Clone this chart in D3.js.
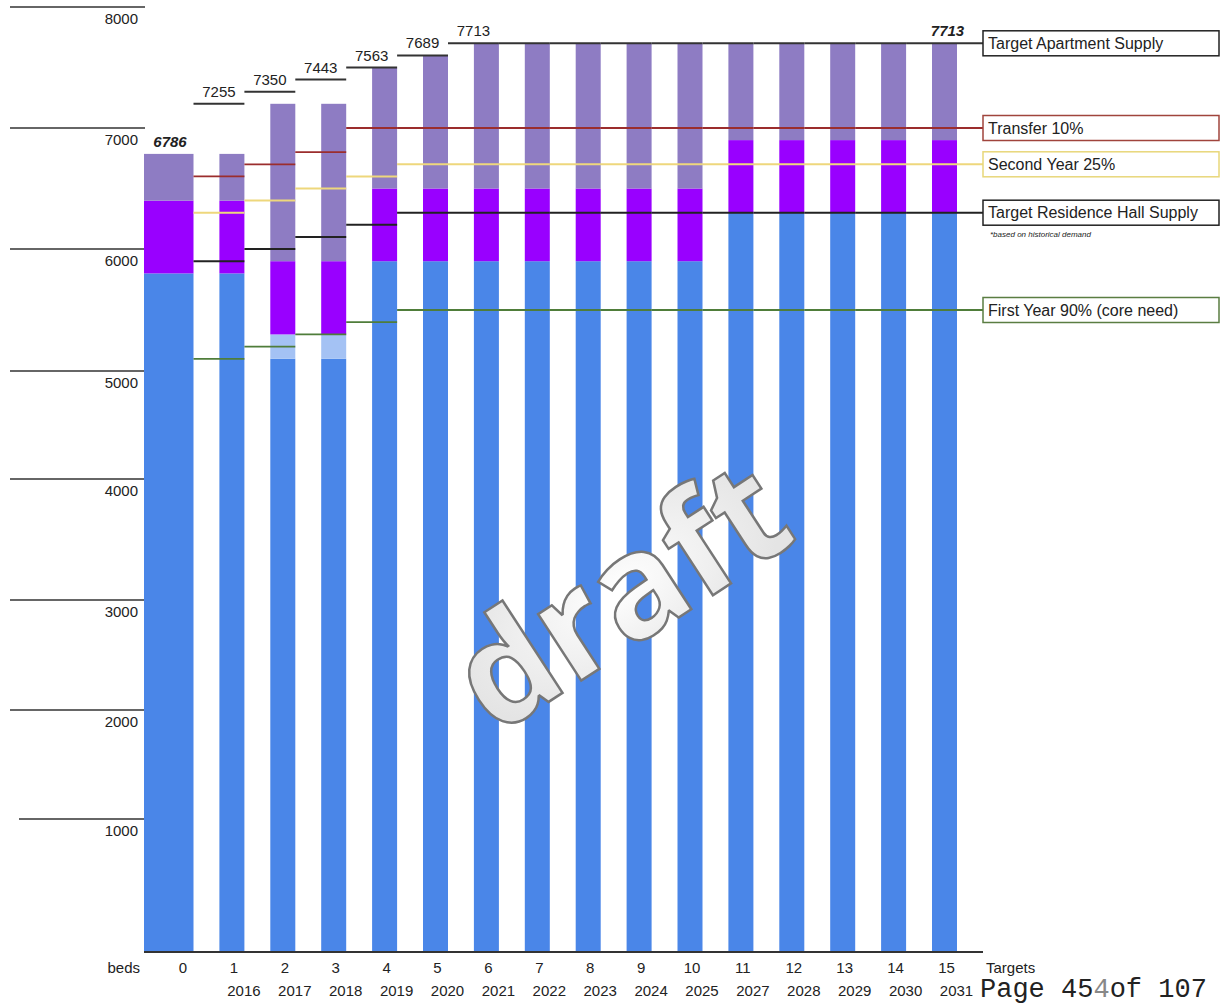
<!DOCTYPE html>
<html>
<head>
<meta charset="utf-8">
<script src="https://cdn.jsdelivr.net/npm/d3@7"></script>
<style>
  body { margin: 0; background: #fff; }
  svg { display: block; }
  text { font-family: "Liberation Sans", Arial, sans-serif; fill: #222; }
</style>
</head>
<body>
<div id="vis"></div>
<script>
// categories (index under each bar) and the year row
var targets = ["0", "1", "2", "3", "4", "5", "6", "7", "8", "9", "10", "11", "12", "13", "14", "15"];
var years = ["", "2016", "2017", "2018", "2019", "2020", "2021", "2022", "2023", "2024", "2025", "2027", "2028", "2029", "2030", "2031"];

// stacked bar pieces (beds)
var blue      = [5800, 5800, 5100, 5100, 5900, 5900, 5900, 5900, 5900, 5900, 5900, 6300, 6300, 6300, 6300, 6300];
var lightBlue = [0, 0, 200, 200, 0, 0, 0, 0, 0, 0, 0, 0, 0, 0, 0, 0];
var purple    = [600, 600, 600, 600, 600, 600, 600, 600, 600, 600, 600, 600, 600, 600, 600, 600];
var lavender  = [386, 386, 1300, 1300, 1000, 1100, 1200, 1200, 1200, 1200, 1200, 800, 800, 800, 800, 800];

// target step lines, one level per bar 1..15
var apartment = [7200, 7300, 7400, 7500, 7600, 7700, 7700, 7700, 7700, 7700, 7700, 7700, 7700, 7700, 7700];
var apartmentLabels = ["7255", "7350", "7443", "7563", "7689", "7713"];
var transfer  = [6600, 6700, 6800, 7000, 7000, 7000, 7000, 7000, 7000, 7000, 7000, 7000, 7000, 7000, 7000];
var secondYr  = [6300, 6400, 6500, 6600, 6700, 6700, 6700, 6700, 6700, 6700, 6700, 6700, 6700, 6700, 6700];
var residence = [5900, 6000, 6100, 6200, 6300, 6300, 6300, 6300, 6300, 6300, 6300, 6300, 6300, 6300, 6300];
var firstYr   = [5100, 5200, 5300, 5400, 5500, 5500, 5500, 5500, 5500, 5500, 5500, 5500, 5500, 5500, 5500];

var yTicks = [1000, 2000, 3000, 4000, 5000, 6000, 7000, 8000];
var startTotal = 6786, endTotal = 7713;

var W = 1221, H = 1005;
var svg = d3.select("#vis").append("svg")
    .attr("width", W)
    .attr("height", H);

svg.append("rect").attr("width", W).attr("height", H).attr("fill", "#fff");

// the hand drawn axis is not evenly spaced, so map each gridline
var y = d3.scaleLinear()
    .domain([0, 1000, 2000, 3000, 4000, 5000, 6000, 7000, 8000])
    .range([952, 819, 710, 600, 479, 371, 249, 128, 7]);

var x = d3.scalePoint()
    .domain(targets)
    .range([181, 944.5]);

var barW = 25;
var axisLeft = 144, legendX = 983;
var right = function (i) { return x(targets[i]) + barW / 2; };

// gridlines at the left
var grid = svg.append("g");
grid.selectAll("line")
  .data(yTicks)
  .enter()
  .append("line")
    .attr("x1", function (d) { return d === 1000 ? 19 : 10; })
    .attr("x2", 145)
    .attr("y1", function (d) { return y(d); })
    .attr("y2", function (d) { return y(d); })
    .attr("stroke", "#333")
    .attr("stroke-width", 1.5);

grid.selectAll("text")
  .data(yTicks)
  .enter()
  .append("text")
    .attr("x", 138)
    .attr("y", function (d) { return y(d) + 17; })
    .attr("text-anchor", "end")
    .style("font-size", "15px")
    .text(function (d) { return d; });

// stacked bars
var rows = targets.map(function (t, i) {
  return { t: t, blue: blue[i], light: lightBlue[i], purple: purple[i], lavender: lavender[i] };
});
var keys = ["blue", "light", "purple", "lavender"];
var colors = { blue: "#4a86e8", light: "#a4c2f4", purple: "#9900ff", lavender: "#8e7cc3" };
var series = d3.stack().keys(keys)(rows);

svg.append("g")
  .selectAll("g")
  .data(series)
  .enter()
  .append("g")
    .attr("fill", function (d) { return colors[d.key]; })
  .selectAll("rect")
  .data(function (d) { return d; })
  .enter()
  .append("rect")
    .attr("x", function (d, i) { return i === 0 ? axisLeft : x(d.data.t) - barW / 2; })
    .attr("width", function (d, i) { return i === 0 ? right(0) - axisLeft : barW; })
    .attr("y", function (d) { return y(d[1]); })
    .attr("height", function (d) { return Math.max(0, y(d[0]) - y(d[1])); });

// step lines: level i spans from bar i-1 to bar i
function steps(levels, color, width) {
  svg.append("g")
    .selectAll("line")
    .data(levels)
    .enter()
    .append("line")
      .attr("x1", function (d, i) { return right(i); })
      .attr("x2", function (d, i) { return i === levels.length - 1 ? legendX : right(i + 1); })
      .attr("y1", function (d) { return y(d); })
      .attr("y2", function (d) { return y(d); })
      .attr("stroke", color)
      .attr("stroke-width", width);
}
steps(firstYr, "#4f7d3a", 1.8);
steps(residence, "#222", 2);
steps(secondYr, "#eed77c", 2);
steps(transfer, "#9b2d2d", 1.8);
steps(apartment, "#333", 2);

// labels above the apartment steps
svg.append("g")
  .selectAll("text")
  .data(apartmentLabels)
  .enter()
  .append("text")
    .attr("x", function (d, i) { return (right(i) + right(i + 1)) / 2; })
    .attr("y", function (d, i) { return y(apartment[i]) - 7; })
    .attr("text-anchor", "middle")
    .style("font-size", "15px")
    .text(function (d) { return d; });

svg.append("text")
    .attr("x", x(targets[0]) - 11)
    .attr("y", y(startTotal) - 7)
    .attr("text-anchor", "middle")
    .style("font-size", "15px")
    .style("font-weight", "bold")
    .style("font-style", "italic")
    .text(startTotal);

svg.append("text")
    .attr("x", x(targets[15]) + 3)
    .attr("y", y(7700) - 7)
    .attr("text-anchor", "middle")
    .style("font-size", "15px")
    .style("font-weight", "bold")
    .style("font-style", "italic")
    .text(endTotal);

// legend boxes at the end of each line
var legendItems = [
  { name: "Target Apartment Supply", level: apartment[14], color: "#222" },
  { name: "Transfer 10%", level: transfer[14], color: "#a0443c" },
  { name: "Second Year 25%", level: secondYr[14], color: "#e8d77a" },
  { name: "Target Residence Hall Supply", level: residence[14], color: "#222" },
  { name: "First Year 90% (core need)", level: firstYr[14], color: "#5a7d42" }
];
var legend = svg.append("g")
  .selectAll("g")
  .data(legendItems)
  .enter()
  .append("g")
    .attr("transform", function (d) { return "translate(" + legendX + "," + (y(d.level) - 12.5) + ")"; });

legend.append("rect")
    .attr("width", 236)
    .attr("height", 25)
    .attr("fill", "#fff")
    .attr("stroke", function (d) { return d.color; })
    .attr("stroke-width", 1.5);

legend.append("text")
    .attr("x", 5)
    .attr("y", 18)
    .style("font-size", "16px")
    .text(function (d) { return d.name; });

svg.append("text")
    .attr("x", 990)
    .attr("y", y(residence[14]) + 24)
    .style("font-size", "8px")
    .style("font-style", "italic")
    .attr("fill", "#444")
    .text("*based on historical demand");

// bottom axis
svg.append("line")
    .attr("x1", axisLeft)
    .attr("x2", legendX)
    .attr("y1", y(0))
    .attr("y2", y(0))
    .attr("stroke", "#333")
    .attr("stroke-width", 2);

svg.append("g")
  .selectAll("text")
  .data(targets)
  .enter()
  .append("text")
    .attr("x", function (d) { return x(d) + 2; })
    .attr("y", y(0) + 21)
    .attr("text-anchor", "middle")
    .style("font-size", "15px")
    .text(function (d) { return d; });

svg.append("g")
  .selectAll("text")
  .data(years)
  .enter()
  .append("text")
    .attr("x", function (d, i) { return x(targets[i]) + 12; })
    .attr("y", y(0) + 44)
    .attr("text-anchor", "middle")
    .style("font-size", "15px")
    .text(function (d) { return d; });

svg.append("text")
    .attr("x", 140)
    .attr("y", y(0) + 21)
    .attr("text-anchor", "end")
    .style("font-size", "15px")
    .text("beds");

svg.append("text")
    .attr("x", 986)
    .attr("y", y(0) + 21)
    .style("font-size", "15px")
    .text("Targets");

// draft watermark
var grad = svg.append("defs").append("radialGradient").attr("id", "wm");
grad.append("stop").attr("offset", "0%").attr("stop-color", "#ffffff");
grad.append("stop").attr("offset", "100%").attr("stop-color", "#e4e4e4");

svg.append("text")
    .attr("transform", "translate(620,595) rotate(-33)")
    .attr("text-anchor", "middle")
    .attr("dy", "0.35em")
    .style("font-family", "'Open Sans', sans-serif")
    .style("font-size", "145px")
    .style("font-weight", "700")
    .style("fill", "url(#wm)")
    .attr("stroke", "#777")
    .attr("stroke-width", 2.5)
    .text("draft");

// page footer
var foot = svg.append("text")
    .attr("x", 980)
    .attr("y", 997)
    .style("font-family", "'Liberation Mono', 'DejaVu Sans Mono', monospace")
    .style("font-size", "27px");
foot.append("tspan").text("Page 45");
foot.append("tspan").style("fill", "#888").text("4");
foot.append("tspan").text("of 107");
</script>
</body>
</html>
